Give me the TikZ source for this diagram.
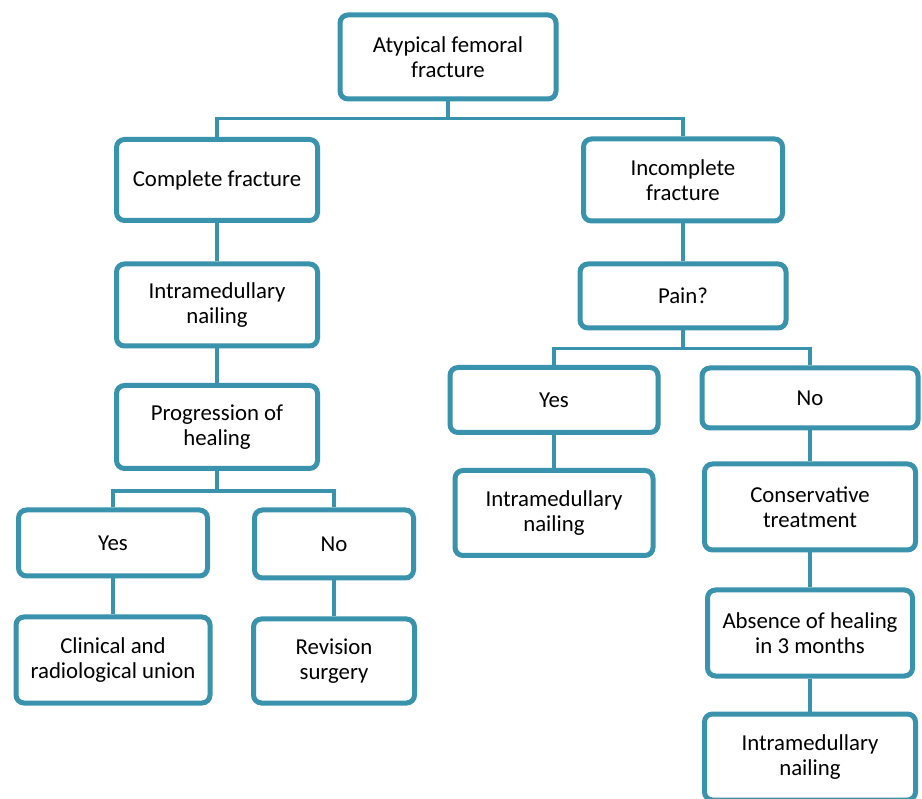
\documentclass[tikz,border=0pt]{standalone}
\usepackage{fontspec}
\setmainfont{Carlito}
\usetikzlibrary{shadows}
\definecolor{tealline}{HTML}{3A93AC}
\begin{document}
\begin{tikzpicture}[
x=1pt, y=-1pt,
every node/.style={font=\fontsize{22.8}{25}\selectfont, align=center},
box/.style={draw=tealline, line width=5pt, rounded corners=8pt, fill=white, inner sep=0pt,
    drop shadow={opacity=0.2, shadow xshift=1.5pt, shadow yshift=-1.5pt}},
link/.style={draw=tealline, line width=3.3pt}
]

    \useasboundingbox (0,0) rectangle (922,799);

    % Root
    \node[box, minimum width=216pt, minimum height=84pt] (root) at (448,57) {Atypical femoral\\fracture};

    % Complete fracture branch
    \node[box, minimum width=201pt, minimum height=81pt] (cf) at (217,180) {Complete fracture};
    \node[box, minimum width=201pt, minimum height=82pt] (imn1) at (217,305) {Intramedullary\\nailing};
    \node[box, minimum width=201pt, minimum height=83pt] (prog) at (217,427) {Progression of\\healing};
    \node[box, minimum width=189pt, minimum height=66pt] (yes1) at (113,543) {Yes};
    \node[box, minimum width=159pt, minimum height=68pt] (no1) at (334,544) {No};
    \node[box, minimum width=194pt, minimum height=86pt] (union) at (113,660) {Clinical and\\radiological union};
    \node[box, minimum width=161pt, minimum height=84pt] (rev) at (334,661) {Revision\\surgery};

    % Incomplete fracture branch
    \node[box, minimum width=199pt, minimum height=82pt] (icf) at (683,180) {Incomplete\\fracture};
    \node[box, minimum width=206pt, minimum height=64pt] (pain) at (683,296) {Pain?};
    \node[box, minimum width=208pt, minimum height=65pt] (yes2) at (554,400) {Yes};
    \node[box, minimum width=216pt, minimum height=60pt] (no2) at (810,398) {No};
    \node[box, minimum width=198pt, minimum height=85pt] (imn2) at (554,513) {Intramedullary\\nailing};
    \node[box, minimum width=211pt, minimum height=86pt] (cons) at (810,507) {Conservative\\treatment};
    \node[box, minimum width=205pt, minimum height=86pt] (abs) at (810,633) {Absence of healing\\in 3 months};
    \node[box, minimum width=211pt, minimum height=86pt] (imn3) at (810,757) {Intramedullary\\nailing};

    % Connectors
    \draw[link] (root.south) -- ++(0,17) -| (cf.north);
    \draw[link] (root.south) -- ++(0,17) -| (icf.north);
    \draw[link] (cf.south) -- (imn1.north);
    \draw[link] (imn1.south) -- (prog.north);
    \draw[link] (prog.south) -- ++(0,20) -| (yes1.north);
    \draw[link] (prog.south) -- ++(0,20) -| (no1.north);
    \draw[link] (yes1.south) -- (union.north);
    \draw[link] (no1.south) -- (rev.north);
    \draw[link] (icf.south) -- (pain.north);
    \draw[link] (pain.south) -- ++(0,18) -| (yes2.north);
    \draw[link] (pain.south) -- ++(0,18) -| (no2.north);
    \draw[link] (yes2.south) -- (imn2.north);
    \draw[link] (no2.south) -- (cons.north);
    \draw[link] (cons.south) -- (abs.north);
    \draw[link] (abs.south) -- (imn3.north);

\end{tikzpicture}
\end{document}
